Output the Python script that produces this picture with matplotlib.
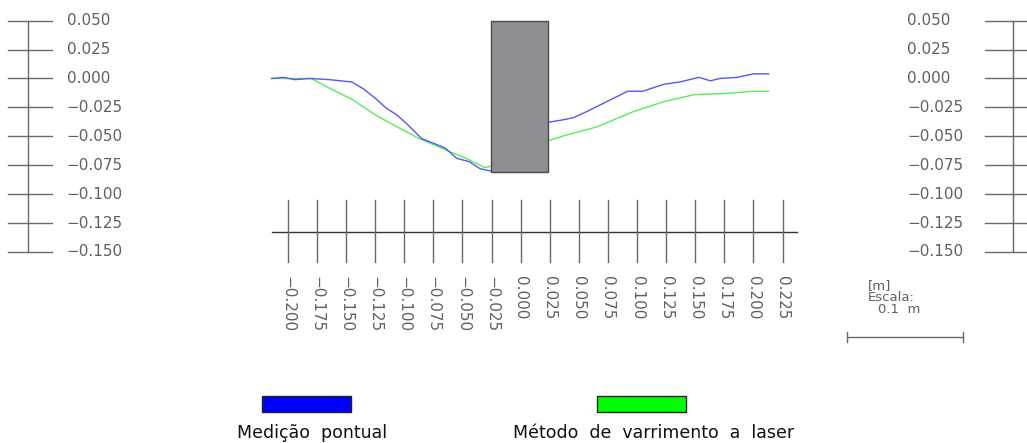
import numpy as np
import matplotlib.pyplot as plt
from matplotlib.patches import Rectangle

# perfil - medicao pontual (azul)
blue_x_left = [-0.214, -0.204, -0.194, -0.181, -0.164, -0.155, -0.145, -0.135, -0.125, -0.115,
               -0.107, -0.098, -0.085, -0.075, -0.065, -0.055, -0.044, -0.035, -0.026]
blue_y_left = [0.000, 0.001, -0.001, 0.000, -0.001, -0.002, -0.003, -0.009, -0.017, -0.026,
               -0.031, -0.039, -0.052, -0.056, -0.060, -0.069, -0.072, -0.078, -0.080]
blue_x_right = [0.023, 0.035, 0.045, 0.056, 0.074, 0.092, 0.105, 0.123, 0.137, 0.153,
                0.163, 0.171, 0.186, 0.200, 0.213]
blue_y_right = [-0.038, -0.036, -0.034, -0.029, -0.020, -0.011, -0.011, -0.005, -0.003, 0.001,
                -0.002, 0.000, 0.001, 0.004, 0.004]

# perfil - varrimento a laser (verde)
green_x_left = [-0.214, -0.180, -0.167, -0.145, -0.124, -0.104, -0.087, -0.064, -0.047, -0.031, -0.026]
green_y_left = [0.000, 0.000, -0.007, -0.018, -0.032, -0.043, -0.052, -0.062, -0.069, -0.077, -0.076]
green_x_right = [0.023, 0.039, 0.065, 0.096, 0.123, 0.149, 0.175, 0.200, 0.213]
green_y_right = [-0.054, -0.049, -0.042, -0.029, -0.020, -0.014, -0.013, -0.011, -0.011]

# bloco cinzento
box_x = [-0.0255, 0.0235]
box_y = [-0.081, 0.050]

# escalas
v_ticks = [0.050, 0.025, 0.000, -0.025, -0.050, -0.075, -0.100, -0.125, -0.150]
h_ticks = [-0.200, -0.175, -0.150, -0.125, -0.100, -0.075, -0.050, -0.025, 0.000,
           0.025, 0.050, 0.075, 0.100, 0.125, 0.150, 0.175, 0.200, 0.225]
series_names = ['Medição  pontual', 'Método  de  varrimento  a  laser']
series_colors = ['#0000ff', '#00ff00']

gray = '#6a6a6a'
txt = '#606060'

fig = plt.figure(figsize=(10.27, 4.43), dpi=100)
ax = fig.add_axes([0, 0, 1, 1])
ax.set_xlim(-0.4473, 0.4350)
ax.set_ylim(-0.3153, 0.0679)
ax.axis('off')

def fmt(v):
    s = '%.3f' % v
    return s.replace('-', '\u2212')

# escala vertical esquerda e direita
for xl, t0, t1, xt in [(-0.423, -0.4405, -0.4026, -0.390), (0.423, 0.399, 0.436, 0.332)]:
    ax.plot([xl, xl], [v_ticks[0], v_ticks[-1]], color=gray, lw=1)
    for v in v_ticks:
        ax.plot([t0, t1], [v, v], color=gray, lw=1)
        ax.text(xt, v, fmt(v), ha='left', va='center', fontsize=11, color=txt)

# escala horizontal
ax.plot([-0.214, 0.237], [-0.133, -0.133], color='#333333', lw=1)
for h in h_ticks:
    ax.plot([h, h], [-0.1055, -0.1587], color=gray, lw=1)
    ax.text(h, -0.171, fmt(h), rotation=-90, ha='center', va='top', fontsize=11, color=txt)

# perfis
ax.plot(green_x_left, green_y_left, color='#55ee55', lw=1)
ax.plot(green_x_right, green_y_right, color='#55ee55', lw=1)
ax.plot(blue_x_left, blue_y_left, color='#5555ff', lw=1)
ax.plot(blue_x_right, blue_y_right, color='#5555ff', lw=1)

ax.add_patch(Rectangle((box_x[0], box_y[0]), box_x[1] - box_x[0], box_y[1] - box_y[0],
                       facecolor='#8e8f93', edgecolor='#4a4a4a', lw=1, zorder=3))

# escala grafica
ax.text(0.298, -0.1795, '[m]', ha='left', va='center', fontsize=9.5, color=txt)
ax.text(0.298, -0.1895, 'Escala:', ha='left', va='center', fontsize=9.5, color=txt)
ax.text(0.307, -0.2, '0.1  m', ha='left', va='center', fontsize=9.5, color=txt)
ax.plot([0.280, 0.380], [-0.2236, -0.2236], color=gray, lw=1)
for e in [0.280, 0.380]:
    ax.plot([e, e], [-0.2196, -0.2276], color=gray, lw=1)

# legenda
leg_x = [-0.184, 0.104]
leg_tx = [-0.179, 0.1146]
for lx, tx, name, col in zip(leg_x, leg_tx, series_names, series_colors):
    ax.add_patch(Rectangle((lx - 0.038, -0.2885), 0.076, 0.0138,
                           facecolor=col, edgecolor='#222222', lw=1))
    ax.text(tx, -0.3067, name, ha='center', va='center', fontsize=12.5, color='#111111')

fig.savefig('out.png', dpi=100)
